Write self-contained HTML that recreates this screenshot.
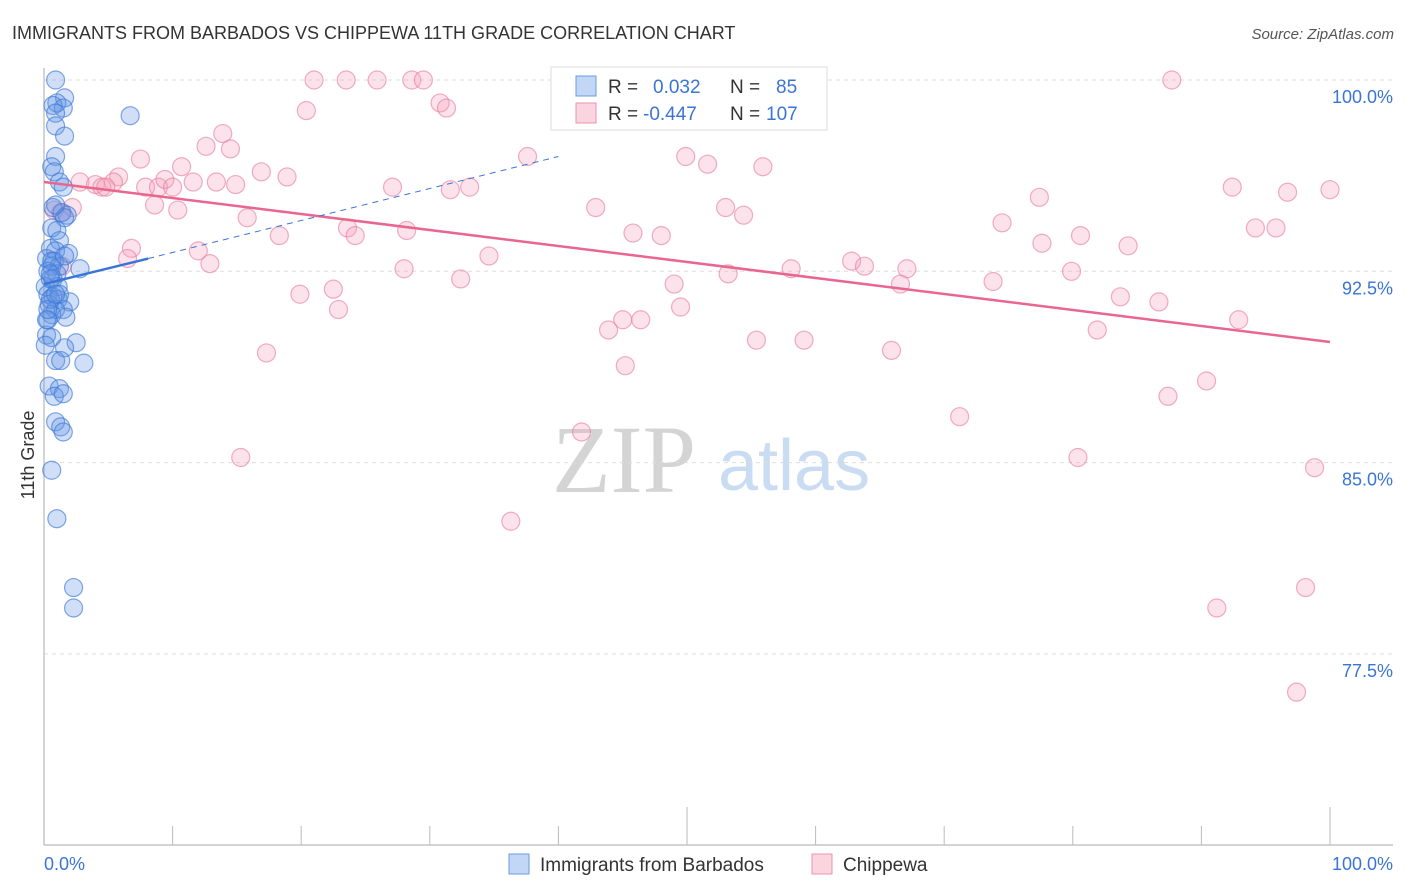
<!DOCTYPE html>
<html><head><meta charset="utf-8">
<style>
body{margin:0;background:#fff;font-family:"Liberation Sans",sans-serif;}
svg{display:block}
</style></head>
<body>
<svg id="chart" width="1406" height="892" xmlns="http://www.w3.org/2000/svg">
<text x="12" y="39" font-size="18" fill="#333">IMMIGRANTS FROM BARBADOS VS CHIPPEWA 11TH GRADE CORRELATION CHART</text>
<text x="1394" y="39" font-size="15" fill="#555" font-style="italic" text-anchor="end">Source: ZipAtlas.com</text>
<g>
<text x="552" y="492" font-size="96" fill="#d4d4d4" font-family="Liberation Serif,serif">ZIP</text>
<text x="718" y="490" font-size="72" fill="#c9dcf2">atlas</text>
</g>
<g id="grid"></g>
<g id="axes"></g>
<g id="pink"></g>
<g id="blue"></g>
<g id="lines"></g>
<text transform="translate(34,455) rotate(-90)" font-size="18" fill="#333" text-anchor="middle">11th Grade</text>
<g>
<rect x="551" y="67" width="276" height="63" fill="#fff" stroke="#ddd"/>
<rect x="576" y="76" width="20" height="20" fill="rgba(120,165,235,0.45)" stroke="#6a9be0"/>
<rect x="576" y="103" width="20" height="20" fill="rgba(245,160,185,0.45)" stroke="#eb96b2"/>
<text x="608" y="93" font-size="19" fill="#333">R = </text><text x="653" y="93" font-size="19" fill="#3a75d6">0.032</text>
<text x="730" y="93" font-size="19" fill="#333">N = </text><text x="776" y="93" font-size="19" fill="#3a75d6">85</text>
<text x="608" y="120" font-size="19" fill="#333">R = </text><text x="643" y="120" font-size="19" fill="#3a75d6">-0.447</text>
<text x="730" y="120" font-size="19" fill="#333">N = </text><text x="766" y="120" font-size="19" fill="#3a75d6">107</text>
</g>
<g>
<rect x="509" y="854" width="20" height="20" fill="rgba(120,165,235,0.45)" stroke="#6a9be0"/>
<text x="540" y="871" font-size="19" fill="#333">Immigrants from Barbados</text>
<rect x="812" y="854" width="20" height="20" fill="rgba(245,160,185,0.45)" stroke="#eb96b2"/>
<text x="843" y="871" font-size="19" fill="#333">Chippewa</text>
</g>
</svg>
<script>
const yTicks=[100,92.5,85,77.5];
const yTickLabels=["100.0%","92.5%","85.0%","77.5%"];
const xTickLabels=["0.0%","100.0%"];
const blueX=[0.9,6.7,1.6,1.0,0.7,1.5,0.9,0.9,1.6,0.9,0.6,0.8,1.2,1.5,0.7,1.4,1.8,1.6,0.6,1.0,1.2,0.5,0.9,1.9,0.2,0.8,0.6,1.2,2.8,0.3,1.0,0.7,0.1,1.1,0.3,0.7,1.1,2.0,0.4,0.9,1.5,0.6,0.3,1.7,0.2,0.6,2.5,1.6,0.9,1.3,3.1,0.4,1.2,0.8,1.5,0.9,1.3,1.5,0.6,1.0,2.3,2.3,0.5,0.2,0.5,0.6,1.2,0.3,0.1,0.9,1.6,0.5,0.9];
const blueY=[100,98.6,99.3,99.1,99.0,98.9,98.7,98.2,97.8,97.0,96.6,96.4,96.0,95.8,95.0,94.8,94.7,94.6,94.2,94.1,93.7,93.4,93.3,93.2,93.0,92.9,92.7,92.7,92.6,92.5,92.4,92.2,91.9,91.9,91.6,91.5,91.4,91.3,91.2,91.0,91.0,90.8,90.6,90.7,90.0,89.9,89.7,89.5,89.0,89.0,88.9,88.0,87.9,87.6,87.7,86.6,86.4,86.2,84.7,82.8,80.1,79.3,91.4,90.6,92.2,92.9,91.6,91.0,89.6,95.1,93.1,92.4,91.6];
const pinkX=[87.7,21.0,23.5,25.9,28.6,29.5,30.8,31.3,20.4,13.9,12.6,14.5,7.5,37.6,49.9,51.6,55.9,10.7,16.9,18.9,5.8,2.8,4.0,5.4,4.5,4.8,7.9,8.9,9.4,10.0,11.6,13.4,14.9,27.1,31.6,33.1,92.4,96.7,100.0,77.4,8.6,42.9,53.0,10.4,54.4,2.2,1.3,15.8,0.8,74.5,94.2,95.8,23.6,24.2,28.2,18.3,45.8,48.0,80.6,77.6,84.3,12.0,6.8,34.6,6.5,12.9,1.4,62.8,63.8,58.1,28.0,67.1,79.9,32.4,53.2,73.8,49.0,66.6,22.5,19.9,83.7,86.7,22.9,49.5,45.0,46.4,43.9,92.9,81.9,59.1,55.4,65.9,17.3,45.2,90.4,87.4,71.2,41.8,15.3,80.4,98.8,36.3,91.2,98.1,97.4];
const pinkY=[100,100,100,100,100,100,99.1,98.9,98.8,97.9,97.4,97.3,96.9,97.0,97.0,96.7,96.6,96.6,96.4,96.2,96.2,96.0,95.9,96.0,95.8,95.8,95.8,95.8,96.1,95.8,96.0,96.0,95.9,95.8,95.7,95.8,95.8,95.6,95.7,95.4,95.1,95.0,95.0,94.9,94.7,95.0,94.8,94.6,94.9,94.4,94.2,94.2,94.2,93.9,94.1,93.9,94.0,93.9,93.9,93.6,93.5,93.3,93.4,93.1,93.0,92.8,92.7,92.9,92.7,92.6,92.6,92.6,92.5,92.2,92.4,92.1,92.0,92.0,91.8,91.6,91.5,91.3,91.0,91.1,90.6,90.6,90.2,90.6,90.2,89.8,89.8,89.4,89.3,88.8,88.2,87.6,86.8,86.2,85.2,85.2,84.8,82.7,79.3,80.1,76.0];
const pinkTrend=[[0,96.0],[100,89.73]];
const blueTrendSolid=[[0,92.0],[8.1,93.0]];
const blueTrendDashed=[[8.1,93.0],[40,97.0]];

const NS="http://www.w3.org/2000/svg";
const X0=44,X1=1330,YT=80,PXPER=191.3/7.5;
const sx=v=>X0+(v/100)*(X1-X0);
const sy=v=>YT+(100-v)*PXPER;
function mk(tag,attrs,parent){const e=document.createElementNS(NS,tag);for(const k in attrs)e.setAttribute(k,attrs[k]);parent.appendChild(e);return e;}
const grid=document.getElementById('grid');
yTicks.forEach((t,i)=>{
  const l=mk('line',{x1:X0,x2:1393,y1:sy(t),y2:sy(t),stroke:'#ddd','stroke-dasharray':'4,4'},grid);
  
  
  const tx=mk('text',{x:1393,y:sy(t)+23,'font-size':18,fill:'#3a75d6','text-anchor':'end'},grid);
  tx.textContent=yTickLabels[i];
  
  
});
const axes=document.getElementById('axes');
const ya=mk('line',{x1:X0,x2:X0,y1:68,y2:845,stroke:'#aaa'},axes);


const xa=mk('line',{x1:X0,x2:1393,y1:845,y2:845,stroke:'#aaa'},axes);


for(let i=1;i<=10;i++){
  const x=X0+i*(X1-X0)/10;
  const tk=mk('line',{x1:x,x2:x,y1:(i==5||i==10)?807:826,y2:845,stroke:'#bbb'},axes);
  
  
}
const xl0=mk('text',{x:X0,y:870,'font-size':18,fill:'#3a75d6'},axes);
xl0.textContent=xTickLabels[0];


const xl1=mk('text',{x:1393,y:870,'font-size':18,fill:'#3a75d6','text-anchor':'end'},axes);
xl1.textContent=xTickLabels[1];



const pg=document.getElementById('pink');
pinkX.forEach((v,i)=>{
  const c=mk('circle',{cx:sx(v),cy:sy(pinkY[i]),r:9,fill:'rgba(245,160,185,0.3)',stroke:'rgba(232,120,158,0.6)','stroke-width':1.2},pg);
  
  
});
const bg=document.getElementById('blue');
blueX.forEach((v,i)=>{
  const c=mk('circle',{cx:sx(v),cy:sy(blueY[i]),r:9,fill:'rgba(100,150,230,0.3)',stroke:'rgba(60,120,215,0.65)','stroke-width':1.2},bg);
  
  
});
const lg=document.getElementById('lines');
const pl=mk('line',{x1:sx(pinkTrend[0][0]),y1:sy(pinkTrend[0][1]),x2:sx(pinkTrend[1][0]),y2:sy(pinkTrend[1][1]),stroke:'#e8668f','stroke-width':2.5},lg);


const bd=mk('line',{x1:sx(blueTrendDashed[0][0]),y1:sy(blueTrendDashed[0][1]),x2:sx(blueTrendDashed[1][0]),y2:sy(blueTrendDashed[1][1]),stroke:'#3a75d6','stroke-width':1,'stroke-dasharray':'6,5'},lg);


const bl=mk('line',{x1:sx(blueTrendSolid[0][0]),y1:sy(blueTrendSolid[0][1]),x2:sx(blueTrendSolid[1][0]),y2:sy(blueTrendSolid[1][1]),stroke:'#3a75d6','stroke-width':2.5},lg);


</script>
</body></html>
